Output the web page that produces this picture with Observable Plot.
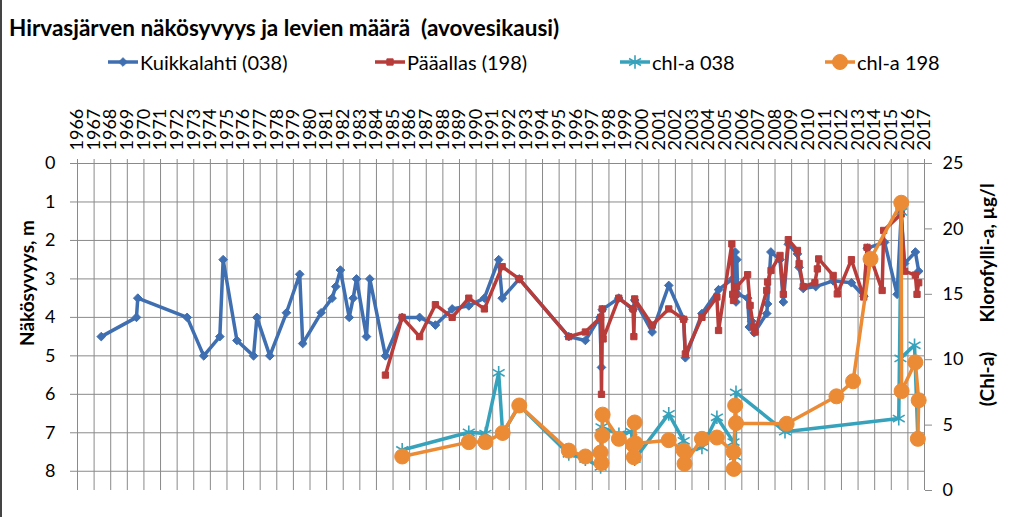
<!DOCTYPE html>
<html><head><meta charset="utf-8">
<script src="https://cdn.jsdelivr.net/npm/d3@7"></script>
<script src="https://cdn.jsdelivr.net/npm/@observablehq/plot@0.6"></script>
<style>
body{margin:0;background:#fff;font-family:Lato,"Open Sans",sans-serif;}
#wrap{position:relative;width:1024px;height:517px;overflow:hidden;background:#fff;}
#edge{position:absolute;left:0;top:0;width:2px;height:517px;background:#444;z-index:5;}
#title{position:absolute;left:9px;top:14px;font-weight:bold;font-size:22.5px;white-space:pre;color:#000;}
#legend{position:absolute;left:0;top:50px;width:1024px;height:24px;font-size:20px;color:#000;}
.item{position:absolute;top:0;display:flex;align-items:center;white-space:nowrap;height:24px;}
#chart{position:absolute;left:0;top:90px;}
</style></head><body>
<div id="wrap">
<div id="title">Hirvasjärven näkösyvyys ja levien määrä  (avovesikausi)</div>
<div id="legend"></div>
<div id="chart"></div>
<div id="edge"></div>
</div>
<script>
// ---------- data (year as decimal, value) ----------
const years = d3.range(1966, 2018);
const depthTicks = [0, 1, 2, 3, 4, 5, 6, 7, 8];
const chlTicks = [0, 5, 10, 15, 20, 25];
const seriesNames = ["Kuikkalahti (038)", "Pääallas (198)", "chl-a 038", "chl-a 198"];

// Secchi depth (m), Kuikkalahti (038)
const kuikkalahti = [
[1967.43,4.5],[1969.55,4.0],[1969.63,3.5],[1972.6,4.0],[1973.6,5.0],[1974.57,4.5],[1974.77,2.5],
[1975.6,4.6],[1976.6,5.0],[1976.8,4.0],[1977.58,5.0],[1978.58,3.88],[1979.38,2.88],[1979.56,4.68],
[1980.67,3.88],[1981.33,3.5],[1981.55,3.2],[1981.83,2.77],[1982.36,4.0],[1982.6,3.5],[1982.8,3.0],
[1983.4,4.5],[1983.6,3.0],[1984.54,5.0],[1985.55,4.0],[1986.6,4.0],[1987.55,4.2],[1988.56,3.78],
[1989.56,3.7],[1990.5,3.5],[1991.36,2.5],[1991.57,3.5],[1992.6,3.0],[1995.58,4.5],[1996.58,4.6],
[1997.45,4.0],[1997.55,5.3],[1997.6,3.8],[1998.59,3.5],[1999.45,3.8],[1999.55,3.55],[2000.6,4.38],
[2001.6,3.17],[2002.5,4.05],[2002.6,5.05],[2003.6,3.9],[2004.6,3.28],[2005.45,3.0],[2005.6,2.3],
[2005.65,3.6],[2005.7,2.5],[2005.75,3.4],[2006.35,3.5],[2006.45,4.25],[2006.6,4.1],[2006.75,4.4],
[2007.5,3.9],[2007.55,3.65],[2007.75,2.3],[2008.3,2.5],[2008.5,3.6],[2008.8,2.1],[2009.35,2.35],
[2009.45,2.7],[2009.7,3.25],[2010.45,3.2],[2011.5,3.05],[2012.6,3.1],[2013.35,3.45],[2013.55,2.2],
[2014.6,2.05],[2015.35,3.4],[2015.6,1.3],[2015.8,2.6],[2016.45,2.3],[2016.65,2.8]
];

// Secchi depth (m), Pääallas (198)
const paaallas = [
[1984.54,5.5],[1985.55,4.0],[1986.6,4.5],[1987.55,3.67],[1988.56,4.0],[1989.56,3.5],[1990.5,3.78],
[1991.57,2.68],[1992.6,3.0],[1995.58,4.5],[1996.58,4.38],[1997.5,4.0],[1997.55,6.0],[1997.6,3.78],
[1997.65,4.56],[1998.59,3.5],[1999.45,3.78],[1999.5,4.5],[1999.55,3.52],[2000.6,4.2],[2001.6,3.78],
[2002.5,4.05],[2002.6,4.95],[2003.6,4.0],[2004.5,3.47],[2004.6,4.34],[2005.4,2.09],[2005.45,3.4],
[2005.5,3.56],[2005.6,3.4],[2005.7,3.2],[2006.35,2.89],[2006.5,3.69],[2006.7,4.25],[2006.8,4.38],
[2007.5,3.3],[2007.55,3.08],[2007.76,2.78],[2008.3,2.39],[2008.5,3.4],[2008.8,1.98],[2009.35,2.26],
[2009.45,2.6],[2009.7,3.2],[2010.4,3.1],[2010.55,2.74],[2010.63,2.48],[2011.5,2.91],[2011.75,3.39],
[2012.6,2.5],[2013.34,3.47],[2013.54,2.18],[2014.45,3.3],[2014.54,1.74],[2015.6,1.31],[2015.8,2.8],
[2016.45,2.9],[2016.55,3.4],[2016.65,3.1]
];

// Chlorophyll-a (µg/l), 038
const chla038 = [
[1985.55,3.1],[1989.56,4.45],[1990.56,4.35],[1991.36,9.0],[1991.6,4.35],[1992.6,6.5],[1995.58,2.8],
[1996.58,2.4],[1997.5,1.8],[1997.55,4.85],[1998.6,4.3],[1999.35,4.5],[1999.55,2.4],[2001.6,5.86],
[2002.5,3.8],[2002.6,2.9],[2003.6,3.3],[2004.5,5.6],[2005.5,3.7],[2005.6,2.6],[2005.65,7.5],
[2008.6,4.5],[2015.45,5.5],[2015.6,21.3],[2015.55,10.1],[2016.4,11.1],[2016.6,4.0]
];

// Chlorophyll-a (µg/l), 198
const chla198 = [
[1985.55,2.6],[1989.56,3.7],[1990.56,3.7],[1991.6,4.4],[1992.6,6.5],[1995.58,3.05],[1996.58,2.6],
[1997.5,2.9],[1997.55,2.1],[1997.6,4.2],[1997.62,5.8],[1998.6,3.95],[1999.45,3.5],[1999.5,2.55],
[1999.55,5.2],[1999.6,3.6],[2001.6,3.85],[2002.5,3.05],[2002.55,2.05],[2003.6,3.95],[2004.5,4.05],
[2005.5,2.95],[2005.52,1.65],[2005.6,6.5],[2005.65,5.15],[2008.7,5.1],[2011.7,7.2],[2012.7,8.35],
[2013.75,17.7],[2015.6,22.0],[2015.62,7.6],[2016.45,9.8],[2016.65,6.9],[2016.6,3.95]
];

// ---------- styles / layout ----------
const BLUE = "#3f6fb0", RED = "#b73c3a", TEAL = "#36a2bc", ORANGE = "#ec8b35", GRID = "#8a8a8a";
const DEPTH_MAX = 8.5, CHL_MAX = 25;
const chlToY = c => DEPTH_MAX * (1 - c / CHL_MAX);
const yToChl = y => Math.round(CHL_MAX * (1 - y / DEPTH_MAX));
const legendLeft = [108, 375, 620, 825];

const rows = (arr, chl) => arr.map(([year, v]) => ({year, y: chl ? chlToY(v) : v}));
const dataSets = [rows(kuikkalahti, false), rows(paaallas, false), rows(chla038, true), rows(chla198, true)];

const styles = [
  {color: BLUE, symbol: "diamond2", r: 3.9, sw: 1, filled: true},
  {color: RED, symbol: "square2", r: 4, sw: 1, filled: true},
  {color: TEAL, symbol: "asterisk", r: 6.5, sw: 1.6, filled: false},
  {color: ORANGE, symbol: "circle", r: 7.5, sw: 1, filled: true}
];

const seriesMarks = dataSets.flatMap((d, i) => {
  const s = styles[i];
  return [
    Plot.line(d, {x: "year", y: "y", stroke: s.color, strokeWidth: 3.5}),
    Plot.dot(d, {x: "year", y: "y", symbol: s.symbol, r: s.r, stroke: s.color, strokeWidth: s.sw, fill: s.filled ? s.color : "none"})
  ];
});

const titleStyle = {rotate: -90, textAnchor: "middle", lineAnchor: "middle", fontWeight: "bold", fontSize: 19, fill: "#000"};

const chart = Plot.plot({
  width: 1024, height: 427,
  marginLeft: 77, marginRight: 100, marginTop: 73, marginBottom: 27,
  x: {domain: [1966, 2017], label: null},
  y: {domain: [0, DEPTH_MAX], reverse: true, label: null},
  style: {fontFamily: "Lato, 'Open Sans', sans-serif", background: "white", overflow: "visible"},
  marks: [
    Plot.gridX(years, {stroke: GRID, strokeOpacity: 1, strokeWidth: 1}),
    Plot.gridY(depthTicks, {stroke: GRID, strokeOpacity: 1, strokeWidth: 1}),
    Plot.axisX(years, {anchor: "top", tickRotate: -90, tickSize: 5, tickPadding: 8, tickFormat: d => String(d), fontSize: 18, stroke: GRID, fill: "#000", label: null}),
    Plot.axisY(depthTicks, {anchor: "left", tickSize: 7, tickPadding: 15, fontSize: 18, stroke: GRID, fill: "#000", label: null}),
    Plot.axisY(chlTicks.map(chlToY), {anchor: "right", tickSize: 7, tickPadding: 11, tickFormat: yToChl, fontSize: 18, stroke: GRID, fill: "#000", label: null}),
    Plot.ruleX([2017], {stroke: GRID}),
    Plot.text(["Näkösyvyys, m"], {frameAnchor: "left", dx: -50, dy: -44, ...titleStyle}),
    Plot.text(["Klorofylli-a, µg/l"], {frameAnchor: "right", dx: 63, dy: -74, ...titleStyle}),
    Plot.text(["(Chl-a)"], {frameAnchor: "right", dx: 63, dy: 52, ...titleStyle}),
    ...seriesMarks
  ]
});
document.getElementById("chart").appendChild(chart);

// ---------- legend ----------
const symMap = {diamond2: d3.symbolDiamond2, square2: d3.symbolSquare2, asterisk: d3.symbolAsterisk, circle: d3.symbolCircle};
const legend = d3.select("#legend");
seriesNames.forEach((name, i) => {
  const s = styles[i];
  const item = legend.append("div").attr("class", "item").style("left", legendLeft[i] + "px");
  const svg = item.append("svg").attr("width", 30).attr("height", 20).style("margin-right", "2px");
  svg.append("line").attr("x1", 0).attr("x2", 30).attr("y1", 10).attr("y2", 10).attr("stroke", s.color).attr("stroke-width", 3.5);
  svg.append("path").attr("transform", "translate(15,10)")
    .attr("d", d3.symbol(symMap[s.symbol], s.r * s.r * Math.PI)())
    .attr("fill", s.filled ? s.color : "none").attr("stroke", s.color).attr("stroke-width", s.sw);
  item.append("span").text(name);
});
</script>
</body></html>
